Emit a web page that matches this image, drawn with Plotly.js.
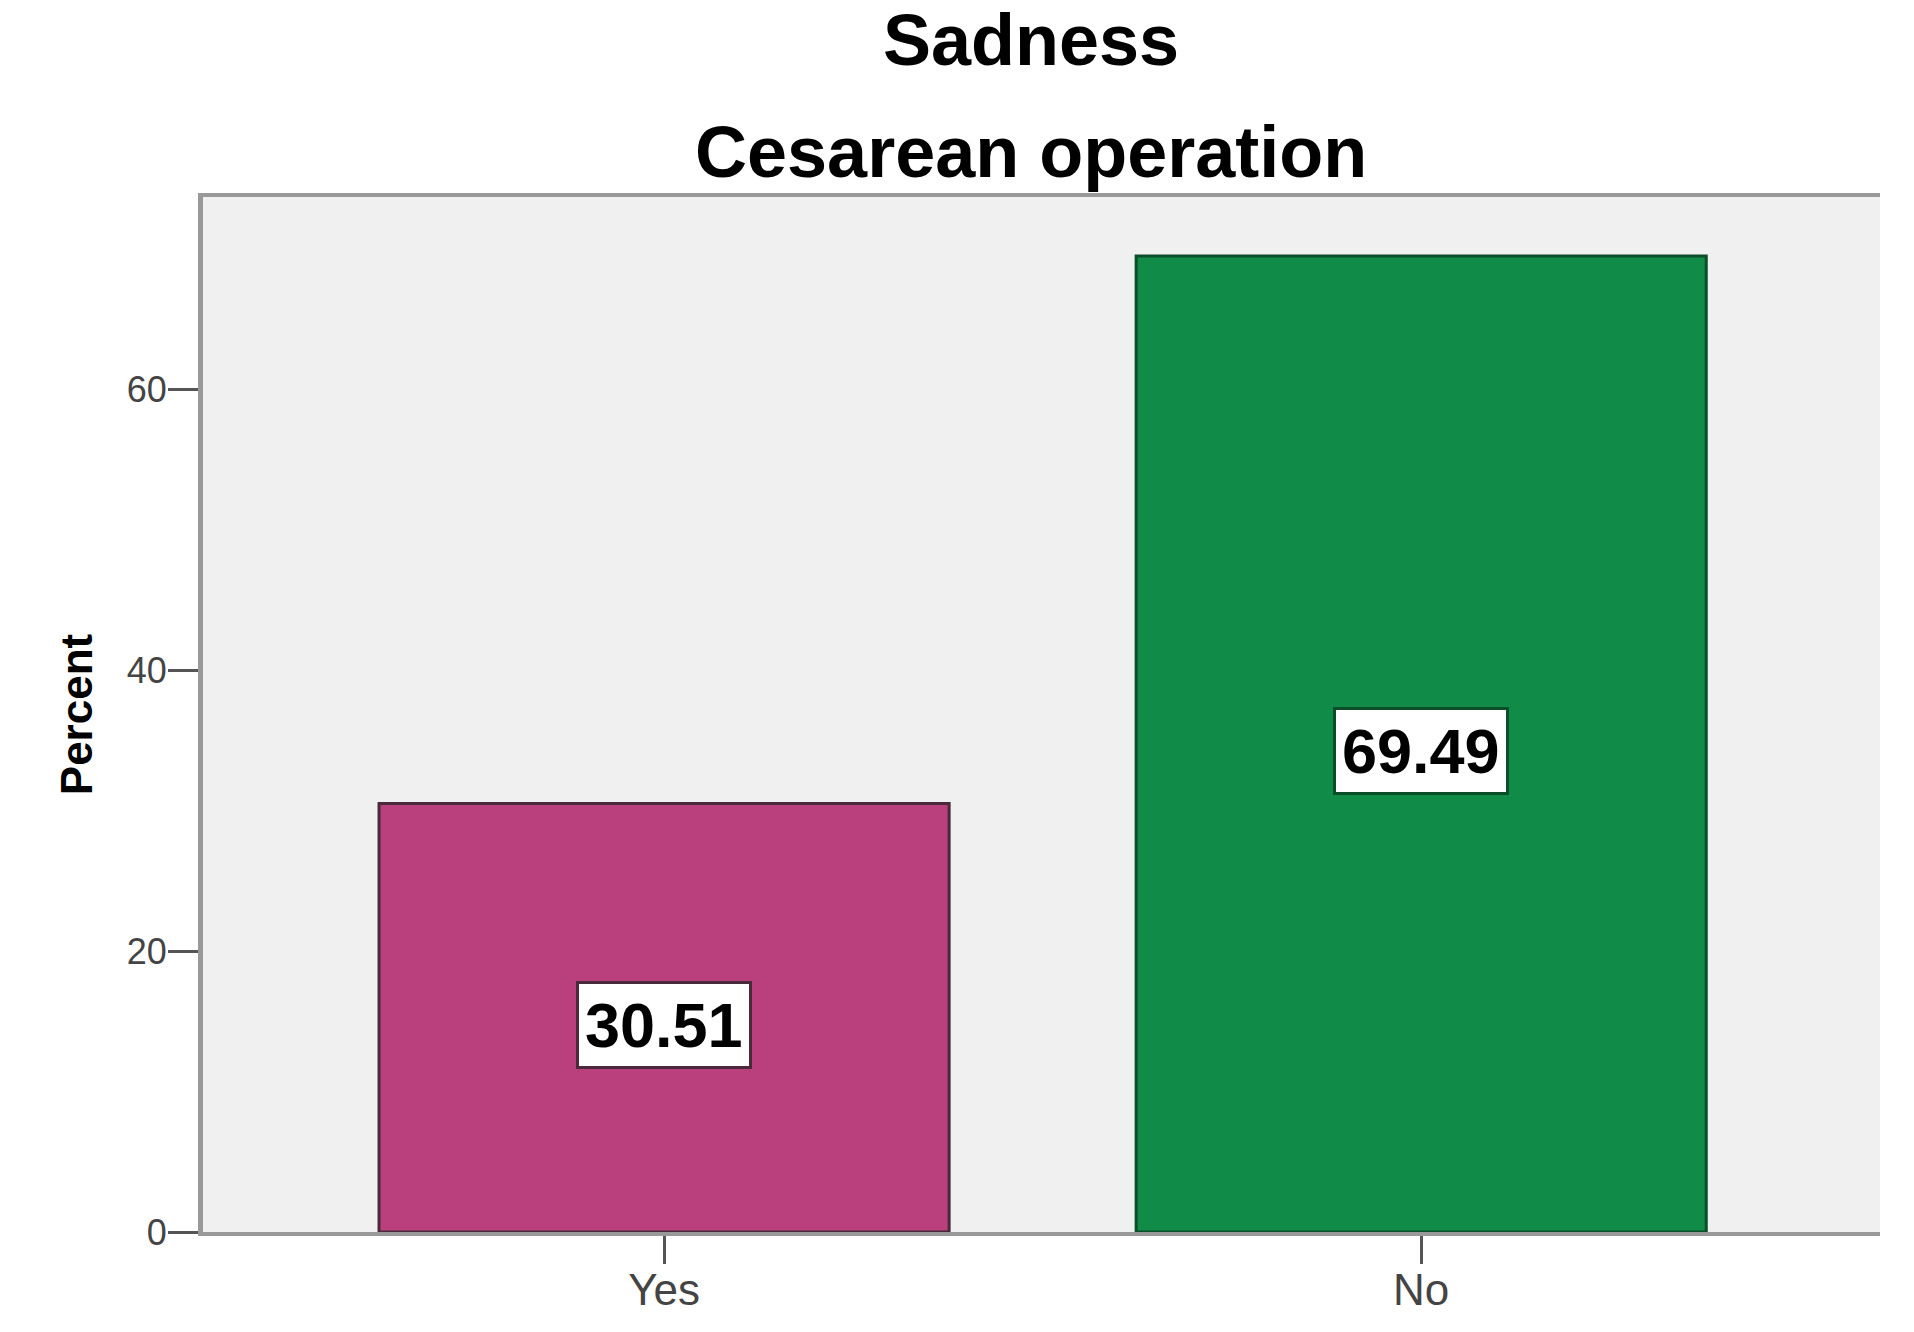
<!DOCTYPE html>
<html>
<head>
<meta charset="utf-8">
<script src="https://cdn.plot.ly/plotly-3.0.1.min.js"></script>
<style>html,body{margin:0;padding:0;background:#fff;}#chart{width:1914px;height:1332px;}</style>
</head>
<body>
<div id="chart"></div>
<script>
// ---- data ----
const categories = ['Yes', 'No'];
const percents = [30.51, 69.49];
const yTickVals = [0, 20, 40, 60];
const yTickText = ['0', '20', '40', '60'];
const titleLine1 = 'Sadness';
const titleLine2 = 'Cesarean operation';
const yTitle = 'Percent';

// ---- styles ----
const barColors = ['#BA3F7D', '#108C48'];
const barEdge = ['#4a2a3a', '#0a4f28'];
const FONT = 'Liberation Sans, Arial, sans-serif';

const trace = {
  type: 'bar',
  x: categories,
  y: percents,
  width: 0.753,
  marker: { color: barColors, line: { color: barEdge, width: 3 } },
  hoverinfo: 'x+y',
  showlegend: false
};

const labelAnns = categories.map((c, i) => ({
  x: c, y: percents[i] / 2, xref: 'x', yref: 'y',
  text: '<b>' + percents[i].toFixed(2) + '</b>',
  showarrow: false,
  font: { family: FONT, size: 63, color: '#000' },
  bgcolor: '#ffffff',
  bordercolor: barEdge[i],
  borderwidth: 3,
  borderpad: 6,
  yshift: -7
}));

const layout = {
  width: 1914, height: 1332,
  margin: { l: 203, r: 34, t: 197, b: 100 },
  paper_bgcolor: '#ffffff',
  plot_bgcolor: '#f0f0f0',
  bargap: 0,
  xaxis: {
    type: 'category',
    range: [-0.609, 1.606],
    showline: true, linecolor: '#999999', linewidth: 4, mirror: true,
    ticks: 'outside', ticklen: 28, tickwidth: 3, tickcolor: '#555555',
    ticklabelstandoff: -12,
    tickfont: { family: FONT, size: 44, color: '#444444' },
    showgrid: false, zeroline: false, fixedrange: true
  },
  yaxis: {
    range: [0, 73.7],
    tickvals: yTickVals, ticktext: yTickText,
    showline: true, linecolor: '#999999', linewidth: 5,
    ticks: 'outside', ticklen: 30, tickwidth: 3, tickcolor: '#555555',
    ticklabelstandoff: -6,
    tickfont: { family: FONT, size: 36, color: '#444444' },
    showgrid: false, zeroline: false,
    title: { text: '<b>' + yTitle + '</b>', font: { family: FONT, size: 44, color: '#000' }, standoff: 22 }
  },
  annotations: labelAnns.concat([
    { xref: 'paper', yref: 'paper', x: 0.494, y: 1.152, yanchor: 'middle', xanchor: 'center',
      text: '<b>' + titleLine1 + '</b>', showarrow: false,
      font: { family: FONT, size: 72, color: '#000' } },
    { xref: 'paper', yref: 'paper', x: 0.494, y: 1.043, yanchor: 'middle', xanchor: 'center',
      text: '<b>' + titleLine2 + '</b>', showarrow: false,
      font: { family: FONT, size: 72, color: '#000' } }
  ])
};

Plotly.newPlot('chart', [trace], layout, { staticPlot: true, displayModeBar: false });
</script>
</body>
</html>
